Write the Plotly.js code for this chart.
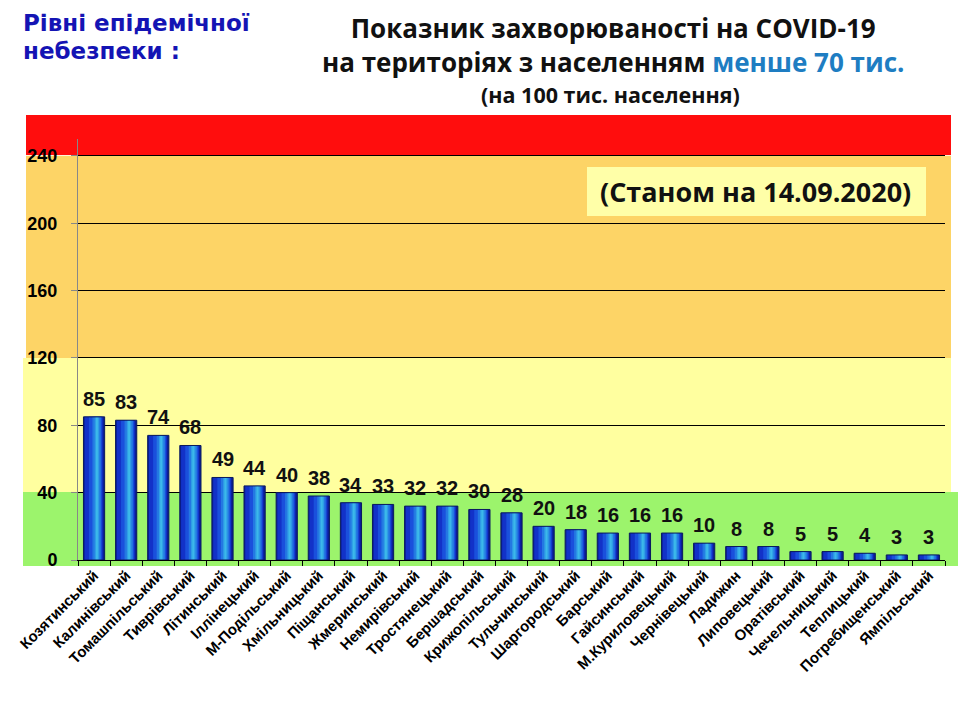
<!DOCTYPE html>
<html>
<head>
<meta charset="utf-8">
<script src="https://cdn.plot.ly/plotly-3.0.1.min.js"></script>
<style>
html,body{margin:0;padding:0;background:#fff;}
#chart{width:960px;height:720px;}
</style>
</head>
<body>
<div id="chart"></div>
<script>
const districts = ["Козятинський","Калинівський","Томашпільський","Тиврівський","Літинський","Іллінецький","М-Подільський","Хмільницький","Піщанський","Жмеринський","Немирівський","Тростянецький","Бершадський","Крижопільський","Тульчинський","Шаргородський","Барський","Гайсинський","М.Куриловецький","Чернівецький","Ладижин","Липовецький","Оратівський","Чечельницький","Теплицький","Погребищенський","Ямпільський"];
const incidence = [85,83,74,68,49,44,40,38,34,33,32,32,30,28,20,18,16,16,16,10,8,8,5,5,4,3,3];
const yTicks = [0,40,80,120,160,200,240];
const zoneBounds = [40,120,240];

const layers = [
  {w:0.66, o:-0.33, c:"#0B1E96"},
  {w:0.56, o:-0.29, c:"#1232C8"},
  {w:0.40, o:-0.16, c:"#1A50DC"},
  {w:0.26, o:-0.05, c:"#2478E2"},
  {w:0.14, o:0.02,  c:"#2F9EE6"},
  {w:0.06, o:0.06,  c:"#3CB8EA"}
];
const traces = layers.map(L => ({
  type:"bar", x:districts, y:incidence,
  width:L.w, offset:L.o,
  marker:{color:L.c, line:{width:0}},
  hoverinfo:"skip", showlegend:false
}));
traces.push({
  type:"bar", x:districts, y:incidence, width:0.66, offset:-0.33,
  marker:{color:"rgba(0,0,0,0)", line:{color:"#0A1A5E", width:1}},
  hoverinfo:"skip", showlegend:false
});

const valueLabels = districts.map((d,i) => ({
  x:d, y:incidence[i], xref:"x", yref:"y", text:"<b>"+incidence[i]+"</b>",
  showarrow:false, yanchor:"bottom", yshift:5,
  font:{family:"Liberation Sans Narrow, Arial Narrow, Liberation Sans, Arial", size:20, color:"#111"}
}));

const PX = v => (v-78)/867;     // horizontal pixel -> paper
const PY = v => (560-v)/421;    // vertical pixel -> paper

const shapes = [
  {type:"rect", xref:"paper", yref:"paper", x0:PX(26), x1:PX(951), y0:PY(155), y1:PY(115), fillcolor:"#FF0D0D", line:{width:0}, layer:"below"},
  {type:"rect", xref:"paper", yref:"y", x0:PX(26), x1:PX(951), y0:zoneBounds[1], y1:zoneBounds[2], fillcolor:"#FDD466", line:{width:0}, layer:"below"},
  {type:"rect", xref:"paper", yref:"y", x0:PX(23), x1:PX(951), y0:zoneBounds[0], y1:zoneBounds[1], fillcolor:"#FFFF9F", line:{width:0}, layer:"below"},
  {type:"rect", xref:"paper", yref:"paper", x0:PX(23), x1:PX(958), y0:PY(566), y1:PY(492), fillcolor:"#9CF46C", line:{width:0}, layer:"below"},
  {type:"rect", xref:"paper", yref:"paper", x0:PX(587), x1:PX(926), y0:PY(216), y1:PY(167), fillcolor:"#FFFFA8", line:{width:0}, layer:"below"}
];

const TF = "Open Sans, Lato, Liberation Sans";
const BF = "DejaVu Sans, Liberation Sans, Arial";
const annotations = valueLabels.concat([
  {xref:"paper", yref:"paper", x:PX(21), y:PY(23), xanchor:"left", yanchor:"middle", showarrow:false,
   text:"<b>Рівні епідемічної</b>", font:{family:BF, size:23, color:"#1414B4"}},
  {xref:"paper", yref:"paper", x:PX(21), y:PY(51), xanchor:"left", yanchor:"middle", showarrow:false,
   text:"<b>небезпеки :</b>", font:{family:BF, size:23, color:"#1414B4"}},
  {xref:"paper", yref:"paper", x:PX(613), y:PY(45), xanchor:"center", yanchor:"middle", align:"center", showarrow:false,
   text:"<b>Показник захворюваності на COVID-19<br>на територіях з населенням <span style='color:#1E7DC2'>менше 70 тис.</span></b>",
   font:{family:TF, size:26, color:"#111"}},
  {xref:"paper", yref:"paper", x:PX(610), y:PY(94), xanchor:"center", yanchor:"middle", showarrow:false,
   text:"<b>(на 100 тис. населення)</b>", font:{family:TF, size:21.5, color:"#111"}},
  {xref:"paper", yref:"paper", x:PX(755), y:PY(191), xanchor:"center", yanchor:"middle", showarrow:false,
   text:"<b>(Станом на 14.09.2020)</b>", font:{family:TF, size:27, color:"#111"}}
]);

const layout = {
  width:960, height:720,
  margin:{l:78, r:15, t:139, b:160},
  paper_bgcolor:"#ffffff", plot_bgcolor:"rgba(0,0,0,0)",
  barmode:"overlay",
  showlegend:false,
  xaxis:{
    type:"category", tickangle:-45, tickson:"boundaries",
    ticks:"outside", ticklen:5, tickcolor:"#000", tickwidth:1,
    showline:true, linecolor:"#000", linewidth:1,
    showgrid:false,
    tickfont:{family:"Liberation Sans, Arial", size:15, color:"#000", weight:"bold"},
    fixedrange:true
  },
  yaxis:{
    range:[0,250], tickvals:yTicks, ticktext:yTicks.map(v => "<b>"+v+"</b>"),
    ticks:"outside", ticklen:6, tickcolor:"#888",
    showline:true, linecolor:"#888", linewidth:1,
    showgrid:true, gridcolor:"#000", gridwidth:1,
    zeroline:true, zerolinecolor:"#000",
    ticklabelstandoff:10,
    tickfont:{family:"Liberation Sans, Arial", size:18, color:"#000"},
    fixedrange:true
  },
  shapes:shapes,
  annotations:annotations
};

Plotly.newPlot("chart", traces, layout, {displayModeBar:false, staticPlot:true});
</script>
</body>
</html>
